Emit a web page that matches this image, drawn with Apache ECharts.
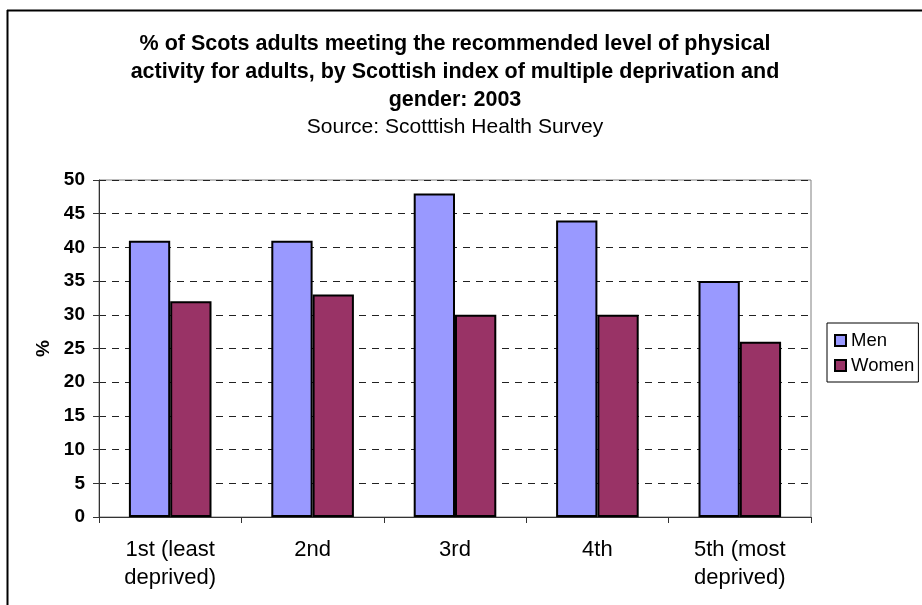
<!DOCTYPE html>
<html>
<head>
<meta charset="utf-8">
<script src="https://cdn.jsdelivr.net/npm/echarts@6/dist/echarts.min.js"></script>
<style>
  html, body { margin: 0; padding: 0; background: #fff; }
  #chart { width: 922px; height: 605px; }
</style>
</head>
<body>
<div id="chart"></div>
<script>
// Deprivation quintiles (SIMD) and the share of adults meeting the activity guideline
const categories = ['1st (least\ndeprived)', '2nd', '3rd', '4th', '5th (most\ndeprived)'];
const men = [41, 41, 48, 44, 35];
const women = [32, 33, 30, 30, 26];
const yTicks = { min: 0, max: 50, interval: 5 };

const FONT = '"Liberation Sans", Arial, Helvetica, sans-serif';

const chart = echarts.init(document.getElementById('chart'), null, { renderer: 'canvas' });

chart.setOption({
  backgroundColor: '#fff',
  animation: false,
  textStyle: { fontFamily: FONT, color: '#000' },
  title: {
    text: '% of Scots adults meeting the recommended level of physical\nactivity for adults, by Scottish index of multiple deprivation and\ngender: 2003',
    subtext: 'Source: Scotttish Health Survey',
    left: 455,
    top: 30,
    textAlign: 'center',
    itemGap: 1,
    padding: 0,
    textStyle: { fontFamily: FONT, fontSize: 21.5, fontWeight: 'bold', color: '#000', lineHeight: 28 },
    subtextStyle: { fontFamily: FONT, fontSize: 21, color: '#000', lineHeight: 25 }
  },
  grid: {
    left: 99, right: 111, top: 180, bottom: 88,
    show: true, borderColor: '#808080', borderWidth: 1, backgroundColor: '#fff'
  },
  legend: {
    orient: 'vertical',
    left: 827, top: 323,
    padding: [8, 4, 7, 7],
    itemGap: 6,
    itemWidth: 11, itemHeight: 11,
    icon: 'rect',
    borderColor: '#000', borderWidth: 1,
    backgroundColor: '#fff',
    textStyle: { fontFamily: FONT, fontSize: 18.5, color: '#000' },
    data: ['Men', 'Women']
  },
  xAxis: {
    type: 'category',
    data: categories,
    axisLine: { lineStyle: { color: '#333', width: 1 } },
    axisTick: { show: true, length: 6, lineStyle: { color: '#333' } },
    axisLabel: { fontFamily: FONT, fontSize: 22, color: '#000', lineHeight: 28, margin: 19 }
  },
  yAxis: {
    type: 'value',
    min: yTicks.min, max: yTicks.max, interval: yTicks.interval,
    name: '%',
    nameLocation: 'middle',
    nameRotate: 90,
    nameGap: 46,
    nameTextStyle: { fontFamily: FONT, fontSize: 19, fontWeight: 'bold', color: '#000' },
    axisLine: { show: true, lineStyle: { color: '#333', width: 1 } },
    axisTick: { show: true, length: 6, lineStyle: { color: '#333' } },
    axisLabel: { fontFamily: FONT, fontSize: 19, fontWeight: 'bold', color: '#000', margin: 14 },
    splitLine: { show: true, lineStyle: { color: '#222', type: [7, 6], width: 1 } }
  },
  series: [
    {
      name: 'Men', type: 'bar', data: men,
      barGap: '0%', barCategoryGap: '42%',
      itemStyle: { color: '#9999FF', borderColor: '#000', borderWidth: 2 }
    },
    {
      name: 'Women', type: 'bar', data: women,
      barGap: '0%', barCategoryGap: '42%',
      itemStyle: { color: '#993366', borderColor: '#000', borderWidth: 2 }
    }
  ],
  graphic: [
    { type: 'line', silent: true, shape: { x1: 7, y1: 10.5, x2: 922, y2: 10.5 }, style: { stroke: '#000', lineWidth: 2 } },
    { type: 'line', silent: true, shape: { x1: 7.5, y1: 10, x2: 7.5, y2: 605 }, style: { stroke: '#000', lineWidth: 2 } }
  ]
});
</script>
</body>
</html>
